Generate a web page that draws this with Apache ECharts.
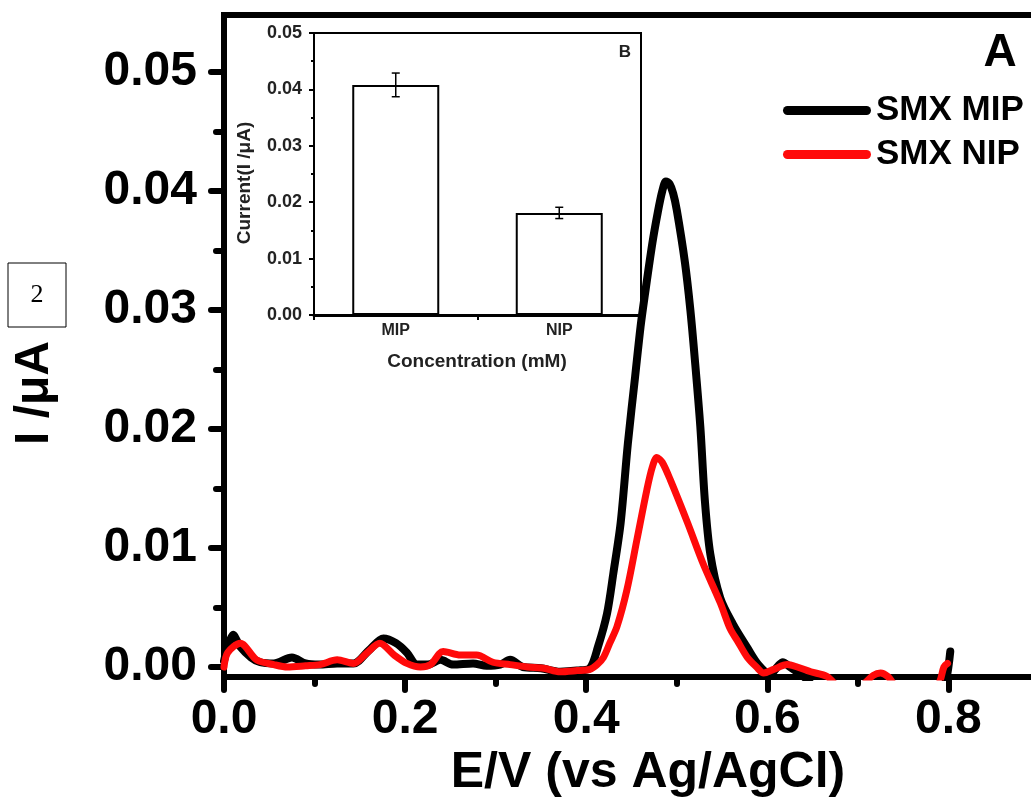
<!DOCTYPE html>
<html>
<head>
<meta charset="utf-8">
<script src="https://cdn.jsdelivr.net/npm/echarts@6/dist/echarts.min.js"></script>
<style>
html,body{margin:0;padding:0;background:#fff;}
#show{width:1031px;height:803px;}
</style>
</head>
<body>
<div id="show"></div>
<script>
var FONT = "'Liberation Sans', Arial, sans-serif";

// SMX MIP curve (E / V, I / uA)
var mipPotential = [0.000,0.010,0.018,0.030,0.040,0.055,0.075,0.090,0.105,0.125,0.143,0.160,0.176,0.190,0.202,0.213,0.225,0.239,0.253,0.275,0.290,0.305,0.316,0.330,0.350,0.371,0.390,0.404,0.413,0.423,0.430,0.438,0.446,0.454,0.460,0.465,0.473,0.479,0.484,0.488,0.492,0.496,0.500,0.509,0.515,0.520,0.526,0.531,0.537,0.548,0.562,0.578,0.590,0.603,0.612,0.617,0.625,0.640,0.660,0.790,0.797,0.802];
var mipCurrent = [0.0005,0.0027,0.0017,0.0008,0.0004,0.0003,0.0008,0.0003,0.0002,0.0003,0.0003,0.0014,0.0024,0.0020,0.0012,0.0002,0.0002,0.0006,0.0002,0.0003,0.0001,0.0002,0.0006,0.0000,-0.0001,-0.0004,-0.0003,-0.0001,0.0017,0.0045,0.0079,0.0121,0.0188,0.0244,0.0286,0.0314,0.0356,0.0382,0.0400,0.0408,0.0406,0.0398,0.0384,0.0340,0.0300,0.0258,0.0202,0.0140,0.0095,0.0058,0.0036,0.0016,0.0002,-0.0006,0.0001,0.0004,0.0000,-0.0008,-0.0020,-0.0020,-0.0012,0.0013];

// SMX NIP curve
var nipPotential = [0.000,0.004,0.018,0.036,0.055,0.070,0.090,0.106,0.125,0.143,0.158,0.172,0.188,0.202,0.217,0.228,0.242,0.261,0.279,0.297,0.316,0.335,0.353,0.371,0.390,0.404,0.412,0.419,0.426,0.434,0.445,0.456,0.467,0.473,0.478,0.484,0.493,0.512,0.529,0.548,0.559,0.567,0.578,0.588,0.596,0.607,0.622,0.633,0.648,0.666,0.685,0.705,0.717,0.725,0.733,0.748,0.785,0.791,0.795,0.799];
var nipCurrent = [0.0000,0.0012,0.0020,0.0006,0.0002,0.0000,0.0001,0.0002,0.0006,0.0003,0.0012,0.0020,0.0010,0.0003,0.0000,0.0002,0.0013,0.0010,0.0010,0.0004,0.0002,0.0000,-0.0001,-0.0004,-0.0003,-0.0002,0.0002,0.0008,0.0020,0.0034,0.0065,0.0107,0.0149,0.0168,0.0176,0.0172,0.0157,0.0121,0.0087,0.0054,0.0032,0.0022,0.0008,0.0000,-0.0005,-0.0002,0.0002,0.0000,-0.0004,-0.0008,-0.0020,-0.0015,-0.0007,-0.0005,-0.0008,-0.0020,-0.0020,-0.0011,0.0000,0.0003];

// inset B
var insetNames = ['MIP', 'NIP'];
var insetValues = [0.0408, 0.0181];
var insetErrors = [0.0021, 0.0010];

var seriesNames = ['SMX MIP', 'SMX NIP'];

function pairs(xs, ys) {
    var out = [];
    for (var i = 0; i < xs.length; i++) out.push([xs[i], ys[i]]);
    return out;
}

var myChart = echarts.init(document.getElementById('show'));

var tickLine = {color: '#000', width: 6, cap: 'round'};
var thin = {color: '#000', width: 2};

var option = {
    animation: false,
    backgroundColor: '#fff',
    grid: [
        {left: 224, top: 15, width: 815, height: 662, outerBoundsMode: 'none', containLabel: false, show: true, borderColor: '#000', borderWidth: 6, backgroundColor: 'transparent'},
        {left: 224, top: 72, width: 815, height: 595, outerBoundsMode: 'none', containLabel: false},
        {left: 314, top: 33, width: 327, height: 282, outerBoundsMode: 'none', containLabel: false, show: true, borderColor: '#000', borderWidth: 2, backgroundColor: '#fff'}
    ],
    legend: {
        data: seriesNames,
        orient: 'vertical',
        left: 778,
        top: 88,
        itemWidth: 88,
        itemHeight: 9,
        itemGap: 9,
        icon: 'path://M4.5,0 H83.5 A4.5,4.5 0 0 1 83.5,9 H4.5 A4.5,4.5 0 0 1 4.5,0 Z',
        textStyle: {fontSize: 35, fontWeight: 'bold', color: '#000', fontFamily: FONT}
    },
    xAxis: [
        {
            gridIndex: 0, type: 'value', min: 0, max: 0.9, interval: 0.2, position: 'bottom',
            axisLine: {show: true, onZero: false, lineStyle: {color: '#000', width: 6}},
            axisTick: {show: true, length: 13, lineStyle: tickLine},
            axisLabel: {
                margin: 19, fontSize: 48, fontWeight: 'bold', color: '#000', fontFamily: FONT,
                showMaxLabel: false,
                formatter: function (v) { return v.toFixed(1); }
            },
            splitLine: {show: false}
        },
        {
            gridIndex: 0, type: 'value', min: 0, max: 0.9, interval: 0.1, position: 'bottom',
            axisLine: {show: false, onZero: false},
            axisTick: {show: true, length: 7, lineStyle: tickLine},
            axisLabel: {show: false},
            splitLine: {show: false}
        },
        {gridIndex: 1, type: 'value', min: 0, max: 1, show: false},
        {
            gridIndex: 2, type: 'category', data: insetNames, position: 'bottom',
            axisLine: {show: true, onZero: false, lineStyle: {color: '#000', width: 3}},
            axisTick: {show: true, length: 5, lineStyle: thin},
            axisLabel: {margin: 8, fontSize: 16, fontWeight: 'bold', color: '#222', fontFamily: FONT},
            splitLine: {show: false}
        }
    ],
    yAxis: [
        {
            gridIndex: 0, type: 'value', min: -0.00084, max: 0.05479,
            axisLine: {show: true, onZero: false, lineStyle: {color: '#000', width: 6}},
            axisTick: {show: false},
            axisLabel: {show: false},
            splitLine: {show: false}
        },
        {
            gridIndex: 1, type: 'value', min: 0, max: 0.05, interval: 0.01,
            axisLine: {show: false},
            axisTick: {show: true, length: 13, lineStyle: tickLine},
            minorTick: {show: true, splitNumber: 2, length: 8, lineStyle: tickLine},
            axisLabel: {
                margin: 27, fontSize: 48, fontWeight: 'bold', color: '#000', fontFamily: FONT,
                formatter: function (v) { return v.toFixed(2); }
            },
            splitLine: {show: false}
        },
        {
            gridIndex: 2, type: 'value', min: 0, max: 0.05, interval: 0.01,
            axisLine: {show: true, lineStyle: thin},
            axisTick: {show: true, length: 5, lineStyle: thin},
            minorTick: {show: true, splitNumber: 2, length: 3, lineStyle: thin},
            axisLabel: {
                margin: 12, fontSize: 18, fontWeight: 'bold', color: '#222', fontFamily: FONT,
                formatter: function (v) { return v.toFixed(2); }
            },
            splitLine: {show: false}
        }
    ],
    graphic: [
        {type: 'text', x: 1000, y: 53, style: {text: 'A', fontSize: 46, fontWeight: 'bold', fontFamily: FONT, fill: '#000', align: 'center', verticalAlign: 'middle'}},
        {type: 'text', x: 648, y: 773, style: {text: 'E/V (vs Ag/AgCl)', fontSize: 50, fontWeight: 'bold', fontFamily: FONT, fill: '#000', align: 'center', verticalAlign: 'middle'}},
        {type: 'text', x: 35, y: 393, rotation: Math.PI / 2, style: {text: 'I /\u03bcA', fontSize: 48, fontWeight: 'bold', fontFamily: FONT, fill: '#000', align: 'center', verticalAlign: 'middle'}},
        {type: 'text', x: 245, y: 183, rotation: Math.PI / 2, z: 10, style: {text: 'Current(I /\u03bcA)', fontSize: 19, fontWeight: 'bold', fontFamily: FONT, fill: '#222', align: 'center', verticalAlign: 'middle'}},
        {type: 'text', x: 477, y: 362, z: 10, style: {text: 'Concentration (mM)', fontSize: 19, fontWeight: 'bold', fontFamily: FONT, fill: '#222', align: 'center', verticalAlign: 'middle'}},
        {type: 'text', x: 625, y: 52, z: 10, style: {text: 'B', fontSize: 17, fontWeight: 'bold', fontFamily: FONT, fill: '#222', align: 'center', verticalAlign: 'middle'}},
        {type: 'rect', shape: {x: 8, y: 263, width: 58, height: 64}, style: {fill: '#fff', stroke: '#000', lineWidth: 1}},
        {type: 'text', x: 37, y: 295, style: {text: '2', fontSize: 26, fontFamily: "'Liberation Serif', 'Times New Roman', serif", fill: '#000', align: 'center', verticalAlign: 'middle'}}
    ],
    series: [
        {
            name: seriesNames[0], type: 'line', xAxisIndex: 0, yAxisIndex: 0,
            data: pairs(mipPotential, mipCurrent),
            showSymbol: false, smooth: 0.3, z: 3,
            itemStyle: {color: '#000'},
            lineStyle: {color: '#000', width: 8, cap: 'round', join: 'round'}
        },
        {
            name: seriesNames[1], type: 'line', xAxisIndex: 0, yAxisIndex: 0,
            data: pairs(nipPotential, nipCurrent),
            showSymbol: false, smooth: 0.3, z: 4,
            itemStyle: {color: '#ff0a0a'},
            lineStyle: {color: '#ff0a0a', width: 7, cap: 'round', join: 'round'}
        },
        {
            type: 'bar', xAxisIndex: 3, yAxisIndex: 2,
            data: insetValues, barWidth: 87, z: 6,
            itemStyle: {color: '#fff', borderColor: '#000', borderWidth: 2}
        },
        {
            type: 'custom', xAxisIndex: 3, yAxisIndex: 2, z: 7,
            data: insetValues.map(function (v, i) { return [i, v - insetErrors[i], v + insetErrors[i]]; }),
            renderItem: function (params, api) {
                var lo = api.coord([api.value(0), api.value(1)]);
                var hi = api.coord([api.value(0), api.value(2)]);
                var w = 4;
                var st = {stroke: '#000', lineWidth: 1.5};
                return {
                    type: 'group',
                    children: [
                        {type: 'line', shape: {x1: hi[0], y1: hi[1], x2: lo[0], y2: lo[1]}, style: st},
                        {type: 'line', shape: {x1: hi[0] - w, y1: hi[1], x2: hi[0] + w, y2: hi[1]}, style: st},
                        {type: 'line', shape: {x1: lo[0] - w, y1: lo[1], x2: lo[0] + w, y2: lo[1]}, style: st}
                    ]
                };
            }
        }
    ]
};
myChart.setOption(option);
</script>
</body>
</html>
